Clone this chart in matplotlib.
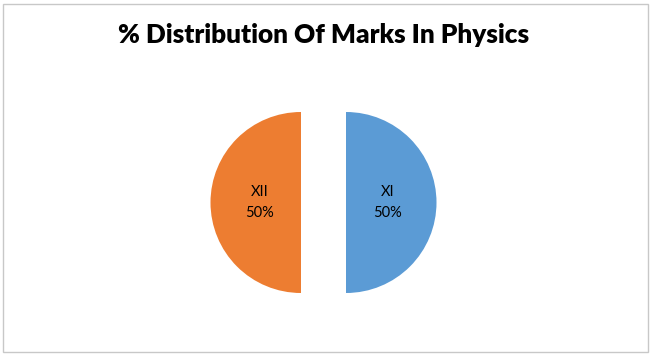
import matplotlib.pyplot as plt
from matplotlib.patches import Rectangle

classes = ["XI", "XII"]
shares = [50, 50]
colors = ["#5B9BD5", "#ED7D31"]
title = "% Distribution Of Marks In Physics"

fig = plt.figure(figsize=(6.5, 3.54), dpi=100)
ax = fig.add_axes([0, 0, 1, 1])

# pie drawn in pixel-like data units, explode is absolute here
wedges, texts, autotexts = ax.pie(
    shares, colors=colors, startangle=90, counterclock=False,
    explode=[22.5, 22.5], center=(323.5, 202.5), radius=90.5,
    autopct="%1.0f%%", pctdistance=0.46, frame=True,
    wedgeprops=dict(linewidth=0),
    textprops=dict(fontsize=10.5, family="Lato", color="black"))
ax.set_xlim(0, 650)
ax.set_ylim(354, 0)
ax.set_aspect("auto")
ax.axis("off")

# chart frame like the Excel selection box
ax.add_patch(Rectangle((2.5, 3.5), 645, 348, fill=False, edgecolor="#C8C8C8", lw=1))

for t, name in zip(autotexts, classes):
    t.set_text(name + "\n" + t.get_text())
    t.set_linespacing(1.6)

ax.text(324, 35, title, ha="center", va="center", fontsize=18.8,
        fontweight="heavy", family="Lato")

fig.savefig("out.png", dpi=100)
